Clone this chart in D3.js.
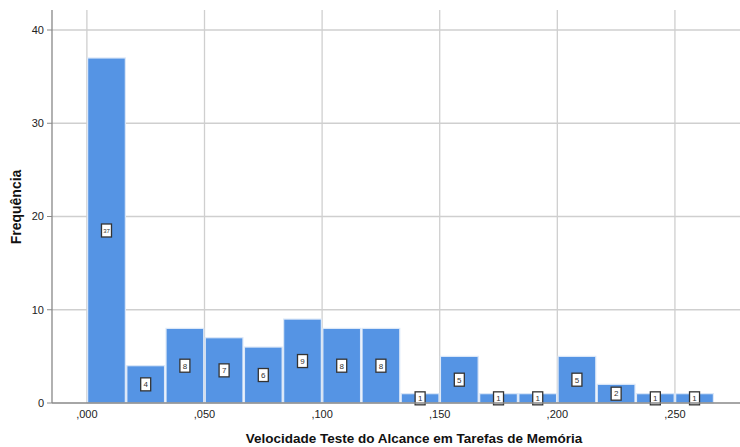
<!DOCTYPE html>
<html><head><meta charset="utf-8">
<script src="https://cdn.jsdelivr.net/npm/d3@7"></script>
<style>body{margin:0;background:#fff}svg{display:block}</style>
</head><body>
<script>
const binStart = 0;
const binWidth = 0.05/3;
const counts = [37,4,8,7,6,9,8,8,1,5,1,1,5,2,1,1];
const xTicks = [0,0.05,0.1,0.15,0.2,0.25];
const xTickLabels = [",000",",050",",100",",150",",200",",250"];
const yTicks = [0,10,20,30,40];
const xTitle = "Velocidade Teste do Alcance em Tarefas de Memória";
const yTitle = "Frequência";

(function(){
const W=740,H=447;
const svg=d3.select("body").append("svg").attr("width",W).attr("height",H);
const mLeft=52, mRight=740, mTop=10, mBottom=403;
const x=d3.scaleLinear().domain([-0.01483,0.27766]).range([mLeft,mRight]);
const y=d3.scaleLinear().domain([0,40]).range([mBottom,30]);
const bins=counts.map((c,i)=>({x0:binStart+i*binWidth,x1:binStart+(i+1)*binWidth,c}));
const FF="Arial, Liberation Sans, sans-serif";

svg.append("g").selectAll("line").data(yTicks.filter(d=>d>0)).join("line")
 .attr("x1",mLeft).attr("x2",mRight).attr("y1",d=>y(d)).attr("y2",d=>y(d))
 .attr("stroke","#cfcfcf").attr("stroke-width",1.3);
svg.append("g").selectAll("line").data(xTicks).join("line")
 .attr("x1",d=>x(d)).attr("x2",d=>x(d)).attr("y1",mTop).attr("y2",mBottom)
 .attr("stroke","#cfcfcf").attr("stroke-width",1.3);

svg.append("g").selectAll("rect").data(bins).join("rect")
 .attr("x",d=>x(d.x0)+0.75).attr("width",d=>x(d.x1)-x(d.x0)-1.5)
 .attr("y",d=>y(d.c)).attr("height",d=>y(0)-y(d.c))
 .attr("fill","#5594e4").attr("stroke","#dce8f8").attr("stroke-width",1.2);

const lg=svg.append("g").selectAll("g").data(bins).join("g")
 .attr("transform",d=>`translate(${(x(d.x0)+x(d.x1))/2},${y(d.c/2)})`);
lg.append("rect").attr("x",-5).attr("y",-6.5).attr("width",10).attr("height",13)
 .attr("fill","#fff").attr("stroke","#333").attr("stroke-width",1.3);
lg.append("text").text(d=>d.c).attr("text-anchor","middle").attr("dy","0.35em")
 .attr("font-family",FF).attr("font-size",d=>String(d.c).length>1?6:8).attr("fill","#333");

svg.append("line").attr("x1",mLeft).attr("x2",mLeft).attr("y1",mTop).attr("y2",mBottom).attr("stroke","#888").attr("stroke-width",1.3);
svg.append("line").attr("x1",mLeft).attr("x2",mRight).attr("y1",mBottom).attr("y2",mBottom).attr("stroke","#888").attr("stroke-width",1.3);
svg.append("g").selectAll("line").data(yTicks).join("line")
 .attr("x1",mLeft-5).attr("x2",mLeft).attr("y1",d=>y(d)).attr("y2",d=>y(d)).attr("stroke","#888");
svg.append("g").selectAll("text").data(yTicks).join("text")
 .attr("x",mLeft-8).attr("y",d=>y(d)).attr("dy","0.35em").attr("text-anchor","end")
 .attr("font-family",FF).attr("font-size",11).attr("fill","#222").text(d=>d);
svg.append("g").selectAll("text").data(xTicks).join("text")
 .attr("x",d=>x(d)).attr("y",mBottom+15).attr("text-anchor","middle")
 .attr("font-family",FF).attr("font-size",11).attr("fill","#222").text((d,i)=>xTickLabels[i]);
svg.append("text").attr("x",414).attr("y",443).attr("text-anchor","middle")
 .attr("font-family",FF).attr("font-size",13.5).attr("font-weight","bold").attr("fill","#111").text(xTitle);
svg.append("text").attr("transform","translate(21,207) rotate(-90)").attr("text-anchor","middle")
 .attr("font-family",FF).attr("font-size",14).attr("font-weight","bold").attr("fill","#111").text(yTitle);
})();
</script>
</body></html>
